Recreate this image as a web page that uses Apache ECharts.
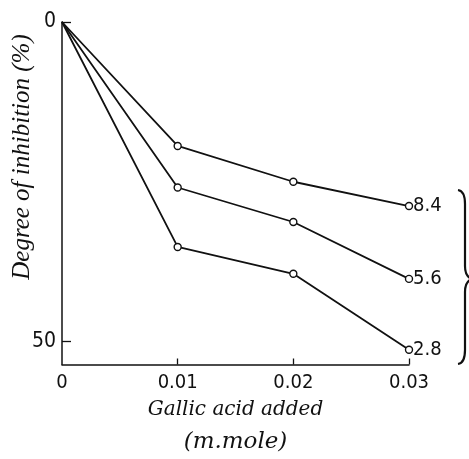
<!DOCTYPE html>
<html>
<head>
<meta charset="utf-8">
<script src="https://cdn.jsdelivr.net/npm/echarts@6/dist/echarts.min.js"></script>
<style>
  html, body { margin: 0; padding: 0; background: #fff; }
  #chart { width: 469px; height: 459px; }
</style>
</head>
<body>
<div id="chart"></div>
<script>
// Gallic acid added (m.mole)
var doses = [0, 0.01, 0.02, 0.03];
var xTicks = [0, 0.01, 0.02, 0.03];
var yTicks = [0, 50];

// Degree of inhibition (%), one curve per concentration
var seriesNames = ['8.4', '5.6', '2.8'];
var inhib84 = [0, 19.4, 25.0, 28.8];
var inhib56 = [0, 25.9, 31.3, 40.2];
var inhib28 = [0, 35.2, 39.4, 51.3];

var numFont = "'Liberation Sans Narrow', 'DejaVu Sans Condensed', 'Roboto Condensed', 'Liberation Sans', sans-serif";
var titleFont = "'DejaVu Serif', 'Liberation Serif', serif";

function pairs(values) {
  return values.map(function (v, i) {
    var item = { value: [doses[i], v] };
    if (i === 0) item.symbol = 'none';
    return item;
  });
}

function makeSeries(name, values) {
  return {
    name: name,
    type: 'line',
    data: pairs(values),
    symbol: 'circle',
    symbolSize: 7,
    itemStyle: { color: '#fff', borderColor: '#111', borderWidth: 1.4 },
    lineStyle: { color: '#111', width: 1.8 },
    emphasis: { disabled: true },
    endLabel: {
      show: true,
      formatter: '{a}',
      color: '#111',
      fontFamily: numFont,
      fontSize: 20,
      distance: 4
    }
  };
}

var braceStyle = { fill: 'none', stroke: '#111', lineWidth: 2.2 };

var chart = echarts.init(document.getElementById('chart'), null, { renderer: 'canvas' });

chart.setOption({
  animation: false,
  backgroundColor: '#fff',
  grid: { left: 62, right: 60, top: 22, bottom: 94 },
  xAxis: {
    type: 'value',
    position: 'bottom',
    min: 0,
    max: 0.03,
    interval: 0.01,
    splitLine: { show: false },
    axisLine: { onZero: false, lineStyle: { color: '#111', width: 1.5 } },
    axisTick: { inside: true, length: 6, lineStyle: { color: '#111', width: 1.3 }, customValues: xTicks.slice(1) },
    axisLabel: {
      customValues: xTicks,
      color: '#111',
      fontFamily: numFont,
      fontSize: 20,
      margin: 8,
      formatter: function (v) { return v === 0 ? '0' : v.toFixed(2); }
    },
    name: '{a|Gallic acid added}\n{b|(m.mole)}',
    nameLocation: 'middle',
    nameGap: 29,
    nameTextStyle: {
      verticalAlign: 'top',
      rich: {
        a: { fontFamily: titleFont, fontStyle: 'italic', fontSize: 20, color: '#111', lineHeight: 33 },
        b: { fontFamily: titleFont, fontStyle: 'italic', fontSize: 23, color: '#111', lineHeight: 32 }
      }
    }
  },
  yAxis: {
    type: 'value',
    inverse: true,
    min: 0,
    max: 53.6,
    splitLine: { show: false },
    axisLine: { onZero: false, lineStyle: { color: '#111', width: 1.5 } },
    axisTick: { inside: true, length: 9, lineStyle: { color: '#111', width: 1.3 }, customValues: yTicks },
    axisLabel: {
      customValues: yTicks,
      color: '#111',
      fontFamily: numFont,
      fontSize: 21,
      margin: 6
    }
  },
  graphic: [{
    type: 'text',
    x: 22,
    y: 157,
    rotation: Math.PI / 2,
    style: {
      text: 'Degree of inhibition (%)',
      fontFamily: "'Liberation Serif', serif",
      fontStyle: 'italic',
      fontSize: 25,
      fill: '#111',
      align: 'center',
      verticalAlign: 'middle'
    }
  }, {
    // brace on the right edge, cut off by the page
    type: 'bezierCurve',
    shape: { x1: 458, y1: 190, x2: 465, y2: 204, cpx1: 465, cpy1: 191 },
    style: braceStyle
  }, {
    type: 'line',
    shape: { x1: 465, y1: 204, x2: 465, y2: 266 },
    style: braceStyle
  }, {
    type: 'bezierCurve',
    shape: { x1: 465, y1: 266, x2: 470, y2: 278, cpx1: 465, cpy1: 275 },
    style: braceStyle
  }, {
    type: 'bezierCurve',
    shape: { x1: 470, y1: 280, x2: 465, y2: 292, cpx1: 465, cpy1: 283 },
    style: braceStyle
  }, {
    type: 'line',
    shape: { x1: 465, y1: 292, x2: 465, y2: 350 },
    style: braceStyle
  }, {
    type: 'bezierCurve',
    shape: { x1: 465, y1: 350, x2: 458, y2: 364, cpx1: 465, cpy1: 363 },
    style: braceStyle
  }],
  series: [
    makeSeries(seriesNames[0], inhib84),
    makeSeries(seriesNames[1], inhib56),
    makeSeries(seriesNames[2], inhib28)
  ]
});
</script>
</body>
</html>
